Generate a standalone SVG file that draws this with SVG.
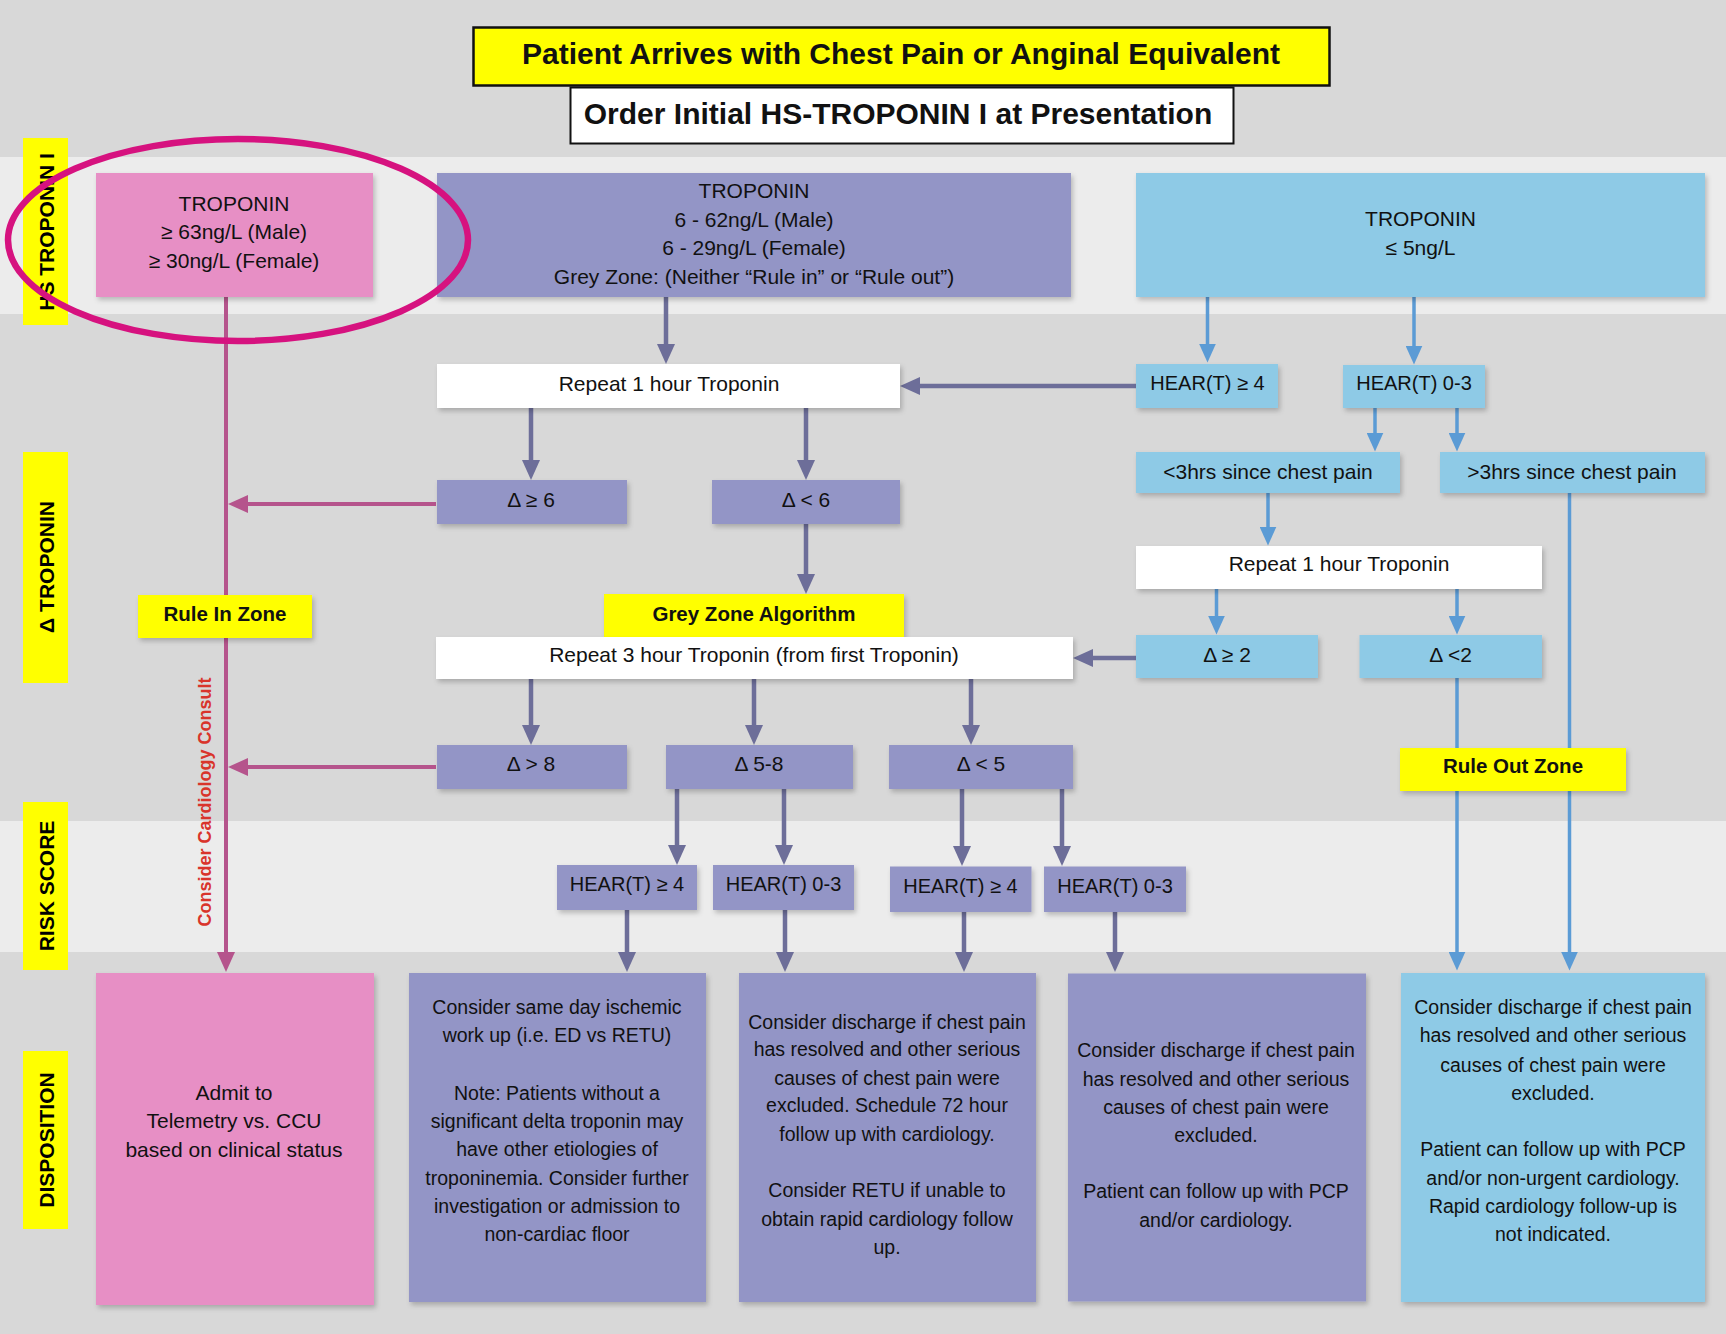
<svg xmlns="http://www.w3.org/2000/svg" width="1726" height="1334" viewBox="0 0 1726 1334">
<defs>
<style>
text{font-family:"Liberation Sans",Arial,sans-serif;fill:#111;text-anchor:middle}
.t21{font-size:21px}
.t20{font-size:20px}
.d{font-size:19.5px}
.b{font-weight:bold}
.side{font-size:21px;font-weight:bold;fill:#000}
.pink{fill:#e78fc5}
.lav{fill:#9395c6}
.blue{fill:#8ecae6}
.yel{fill:#ffff00}
.wht{fill:#ffffff}
.cp{fill:none;stroke:#6d6e99;stroke-width:4.5}
.ck{fill:none;stroke:#b5548c;stroke-width:4}
.cb{fill:none;stroke:#5b9bd5;stroke-width:3.5}
</style>
<filter id="sh" x="-10%" y="-10%" width="120%" height="130%">
<feDropShadow dx="2" dy="3" stdDeviation="2.5" flood-color="#000" flood-opacity="0.22"/>
</filter>
<marker id="ap" viewBox="0 0 20 18" refX="10" refY="9" markerWidth="20" markerHeight="18" markerUnits="userSpaceOnUse" orient="auto"><path d="M0,0 L20,9 L0,18 z" fill="#6d6e99"/></marker>
<marker id="ak" viewBox="0 0 20 18" refX="10" refY="9" markerWidth="20" markerHeight="18" markerUnits="userSpaceOnUse" orient="auto"><path d="M0,0 L20,9 L0,18 z" fill="#b5548c"/></marker>
<marker id="ab" viewBox="0 0 20 18" refX="10" refY="9" markerWidth="19" markerHeight="17" markerUnits="userSpaceOnUse" orient="auto"><path d="M0,0 L20,9 L0,18 z" fill="#5b9bd5"/></marker>
</defs>

<!-- background bands -->
<rect x="0" y="0" width="1726" height="1334" fill="#d8d8d8"/>
<rect x="0" y="157" width="1726" height="157" fill="#ececec"/>
<rect x="0" y="821" width="1726" height="131" fill="#ececec"/>

<!-- side labels -->
<g id="lbl-hs"><rect x="23" y="138" width="45" height="187" class="yel"/><text class="side" transform="translate(53.5,232) rotate(-90)">HS TROPONIN I</text></g>
<g id="lbl-delta"><rect x="23" y="452" width="45" height="231" class="yel"/><text class="side" transform="translate(53.5,567) rotate(-90)">Δ TROPONIN</text></g>
<g id="lbl-risk"><rect x="23" y="802" width="45" height="168" class="yel"/><text class="side" transform="translate(53.5,886) rotate(-90)">RISK SCORE</text></g>
<g id="lbl-disp"><rect x="23" y="1051" width="45" height="178" class="yel"/><text class="side" transform="translate(53.5,1140) rotate(-90)">DISPOSITION</text></g>

<!-- connectors -->
<g id="connectors">
<path class="cp" marker-end="url(#ap)" d="M666,297 V354"/>
<path class="cp" marker-end="url(#ap)" d="M531,408 V470"/>
<path class="cp" marker-end="url(#ap)" d="M806,408 V470"/>
<path class="cp" marker-end="url(#ap)" d="M806,524 V584"/>
<path class="cp" marker-end="url(#ap)" d="M1136,386 H910"/>
<path class="cp" marker-end="url(#ap)" d="M1136,658 H1083"/>
<path class="cp" marker-end="url(#ap)" d="M531,679 V735"/>
<path class="cp" marker-end="url(#ap)" d="M754,679 V735"/>
<path class="cp" marker-end="url(#ap)" d="M971,679 V735"/>
<path class="cp" marker-end="url(#ap)" d="M677,789 V855"/>
<path class="cp" marker-end="url(#ap)" d="M784,789 V855"/>
<path class="cp" marker-end="url(#ap)" d="M962,789 V856"/>
<path class="cp" marker-end="url(#ap)" d="M1062,789 V856"/>
<path class="cp" marker-end="url(#ap)" d="M627,910 V962"/>
<path class="cp" marker-end="url(#ap)" d="M785,910 V962"/>
<path class="cp" marker-end="url(#ap)" d="M964,912 V962"/>
<path class="cp" marker-end="url(#ap)" d="M1115,912 V962"/>
<path class="ck" marker-end="url(#ak)" d="M226,297 V962"/>
<path class="ck" marker-end="url(#ak)" d="M436,504 H238"/>
<path class="ck" marker-end="url(#ak)" d="M436,767 H238"/>
<path class="cb" marker-end="url(#ab)" d="M1207.5,297 V353"/>
<path class="cb" marker-end="url(#ab)" d="M1414,297 V355"/>
<path class="cb" marker-end="url(#ab)" d="M1375,408 V442"/>
<path class="cb" marker-end="url(#ab)" d="M1457,408 V442"/>
<path class="cb" marker-end="url(#ab)" d="M1268,493 V536"/>
<path class="cb" marker-end="url(#ab)" d="M1216.5,589 V625"/>
<path class="cb" marker-end="url(#ab)" d="M1457,589 V625"/>
<path class="cb" marker-end="url(#ab)" d="M1457,678 V961"/>
<path class="cb" marker-end="url(#ab)" d="M1569.5,493 V961"/>
</g>

<!-- header -->
<g id="n-title"><rect x="473.5" y="27.5" width="856" height="58" class="yel" stroke="#111" stroke-width="2.5"/><text x="901" y="64" class="b" style="font-size:30px">Patient Arrives with Chest Pain or Anginal Equivalent</text></g>
<g id="n-order"><rect x="570.5" y="87.5" width="663" height="56" class="wht" stroke="#111" stroke-width="2"/><text x="898" y="124" class="b" style="font-size:30px">Order Initial HS-TROPONIN I at Presentation</text></g>

<!-- HS troponin row -->
<g id="n-trop-high"><rect x="96" y="173" width="277" height="124" class="pink" filter="url(#sh)"/>
<text class="t21" x="234" y="210.5">TROPONIN</text><text class="t21" x="234" y="238.5">≥ 63ng/L (Male)</text><text class="t21" x="234" y="267.5">≥ 30ng/L (Female)</text></g>
<g id="n-trop-mid"><rect x="437" y="173" width="634" height="124" class="lav" filter="url(#sh)"/>
<text class="t21" x="754" y="197.5">TROPONIN</text><text class="t21" x="754" y="226.5">6 - 62ng/L (Male)</text><text class="t21" x="754" y="254.5">6 - 29ng/L (Female)</text><text class="t21" x="754" y="283.5">Grey Zone: (Neither “Rule in” or “Rule out”)</text></g>
<g id="n-trop-low"><rect x="1136" y="173" width="569" height="124" class="blue" filter="url(#sh)"/>
<text class="t21" x="1420.5" y="225.5">TROPONIN</text><text class="t21" x="1420.5" y="254.5">≤ 5ng/L</text></g>

<!-- delta troponin row -->
<g id="n-rep1-left"><rect x="437" y="364" width="463" height="44" class="wht" filter="url(#sh)"/><text class="t21" x="669" y="390.5">Repeat 1 hour Troponin</text></g>
<g id="n-hear4-top"><rect x="1136" y="364" width="142" height="44" class="blue" filter="url(#sh)"/><text class="t20" x="1207.5" y="390">HEAR(T) ≥ 4</text></g>
<g id="n-hear03-top"><rect x="1343" y="365" width="142" height="43" class="blue" filter="url(#sh)"/><text class="t20" x="1414" y="390">HEAR(T) 0-3</text></g>
<g id="n-lt3"><rect x="1136" y="452" width="264" height="41" class="blue" filter="url(#sh)"/><text class="t21" x="1268" y="478.5">&lt;3hrs since chest pain</text></g>
<g id="n-gt3"><rect x="1440" y="452" width="265" height="41" class="blue" filter="url(#sh)"/><text class="t21" x="1572" y="478.5">&gt;3hrs since chest pain</text></g>
<g id="n-d6"><rect x="437" y="480" width="190" height="44" class="lav" filter="url(#sh)"/><text class="t21" x="531" y="506.5">Δ ≥ 6</text></g>
<g id="n-dl6"><rect x="712" y="480" width="188" height="44" class="lav" filter="url(#sh)"/><text class="t21" x="806" y="506.5">Δ &lt; 6</text></g>
<g id="n-rep1-right"><rect x="1136" y="546" width="406" height="43" class="wht" filter="url(#sh)"/><text class="t21" x="1339" y="570.5">Repeat 1 hour Troponin</text></g>
<g id="n-rulein"><rect x="138" y="595" width="174" height="43" class="yel" filter="url(#sh)"/><text class="b" style="font-size:20.5px" x="225" y="620.5">Rule In Zone</text></g>
<g id="n-greyzone"><rect x="604" y="594" width="300" height="43" class="yel" filter="url(#sh)"/><text class="b" style="font-size:20.5px" x="754" y="620.5">Grey Zone Algorithm</text></g>
<g id="n-rep3"><rect x="436" y="637" width="637" height="42" class="wht" filter="url(#sh)"/><text class="t21" x="754" y="661.5">Repeat 3 hour Troponin (from first Troponin)</text></g>
<g id="n-d2"><rect x="1136" y="635" width="182" height="43" class="blue" filter="url(#sh)"/><text class="t21" x="1227" y="661.5">Δ ≥ 2</text></g>
<g id="n-dl2"><rect x="1359.5" y="635" width="182.5" height="43" class="blue" filter="url(#sh)"/><text class="t21" x="1450.5" y="661.5">Δ &lt;2</text></g>
<g id="n-d8"><rect x="437" y="745" width="190" height="44" class="lav" filter="url(#sh)"/><text class="t21" x="531" y="770.5">Δ &gt; 8</text></g>
<g id="n-d58"><rect x="666" y="745" width="187" height="44" class="lav" filter="url(#sh)"/><text class="t21" x="759" y="770.5">Δ 5-8</text></g>
<g id="n-dl5"><rect x="889" y="745" width="184" height="44" class="lav" filter="url(#sh)"/><text class="t21" x="981" y="770.5">Δ &lt; 5</text></g>
<g id="n-ruleout"><rect x="1400" y="748" width="226" height="43" class="yel" filter="url(#sh)"/><text class="b" style="font-size:20.5px" x="1513" y="772.5">Rule Out Zone</text></g>

<!-- risk score row -->
<g id="n-hear4-a"><rect x="557" y="865" width="140" height="45" class="lav" filter="url(#sh)"/><text class="t20" x="627" y="891">HEAR(T) ≥ 4</text></g>
<g id="n-hear03-a"><rect x="713" y="865" width="141" height="45" class="lav" filter="url(#sh)"/><text class="t20" x="783.5" y="891">HEAR(T) 0-3</text></g>
<g id="n-hear4-b"><rect x="890" y="866.5" width="141.5" height="45.5" class="lav" filter="url(#sh)"/><text class="t20" x="960.5" y="892.5">HEAR(T) ≥ 4</text></g>
<g id="n-hear03-b"><rect x="1044" y="866.5" width="142" height="45.5" class="lav" filter="url(#sh)"/><text class="t20" x="1115" y="892.5">HEAR(T) 0-3</text></g>

<!-- disposition row -->
<g id="n-admit"><rect x="96" y="973" width="278" height="332" class="pink" filter="url(#sh)"/>
<text class="t21" x="234" y="1099.5">Admit to</text><text class="t21" x="234" y="1127.5">Telemetry vs. CCU</text><text class="t21" x="234" y="1156.5">based on clinical status</text></g>
<g id="n-disp1"><rect x="409" y="973" width="297" height="329" class="lav" filter="url(#sh)"/>
<text class="d" x="557" y="1014">Consider same day ischemic</text>
<text class="d" x="557" y="1042">work up (i.e. ED vs RETU)</text>
<text class="d" x="557" y="1100">Note: Patients without a</text>
<text class="d" x="557" y="1128">significant delta troponin may</text>
<text class="d" x="557" y="1156">have other etiologies of</text>
<text class="d" x="557" y="1184.5">troponinemia. Consider further</text>
<text class="d" x="557" y="1213">investigation or admission to</text>
<text class="d" x="557" y="1241">non-cardiac floor</text></g>
<g id="n-disp2"><rect x="739" y="973" width="297" height="329" class="lav" filter="url(#sh)"/>
<text class="d" x="887" y="1028.5">Consider discharge if chest pain</text>
<text class="d" x="887" y="1056">has resolved and other serious</text>
<text class="d" x="887" y="1084.5">causes of chest pain were</text>
<text class="d" x="887" y="1112">excluded. Schedule 72 hour</text>
<text class="d" x="887" y="1141">follow up with cardiology.</text>
<text class="d" x="887" y="1197">Consider RETU if unable to</text>
<text class="d" x="887" y="1225.5">obtain rapid cardiology follow</text>
<text class="d" x="887" y="1254">up.</text></g>
<g id="n-disp3"><rect x="1068" y="973.5" width="298" height="328" class="lav" filter="url(#sh)"/>
<text class="d" x="1216" y="1057">Consider discharge if chest pain</text>
<text class="d" x="1216" y="1085.5">has resolved and other serious</text>
<text class="d" x="1216" y="1114">causes of chest pain were</text>
<text class="d" x="1216" y="1141.5">excluded.</text>
<text class="d" x="1216" y="1198">Patient can follow up with PCP</text>
<text class="d" x="1216" y="1227">and/or cardiology.</text></g>
<g id="n-disp4"><rect x="1401" y="973" width="304" height="329" class="blue" filter="url(#sh)"/>
<text class="d" x="1553" y="1014">Consider discharge if chest pain</text>
<text class="d" x="1553" y="1042">has resolved and other serious</text>
<text class="d" x="1553" y="1071.5">causes of chest pain were</text>
<text class="d" x="1553" y="1099.5">excluded.</text>
<text class="d" x="1553" y="1156">Patient can follow up with PCP</text>
<text class="d" x="1553" y="1184.5">and/or non-urgent cardiology.</text>
<text class="d" x="1553" y="1213">Rapid cardiology follow-up is</text>
<text class="d" x="1553" y="1241">not indicated.</text></g>

<!-- cardiology consult label -->
<g id="n-consult"><text class="b" style="font-size:18px;fill:#d9342b" transform="translate(210.5,802) rotate(-90)">Consider Cardiology Consult</text></g>

<!-- highlight ellipse -->
<g id="n-highlight"><ellipse cx="238" cy="240" rx="230" ry="101" fill="none" stroke="#d6127f" stroke-width="6.5"/></g>
</svg>
